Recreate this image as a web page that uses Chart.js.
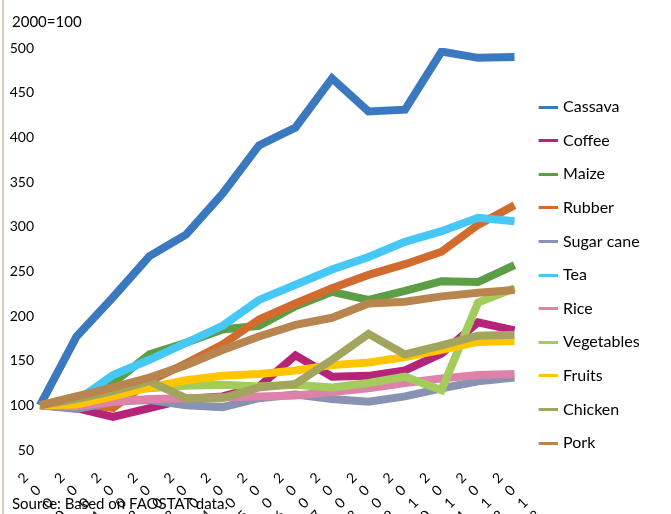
<!DOCTYPE html>
<html>
<head>
<meta charset="utf-8">
<script src="https://cdn.jsdelivr.net/npm/chart.js@4/dist/chart.umd.min.js"></script>
<style>
  html, body { margin: 0; padding: 0; background: #fff; }
  #wrap { position: relative; width: 671px; height: 514px; overflow: hidden; }
  #leftline { position: absolute; left: 2px; top: 0; width: 2px; height: 514px; background: #d5d2b2; }
  .note { position: absolute; left: 12px; font-family: Lato, sans-serif; font-size: 15px; line-height: 18px; color: #000; white-space: nowrap; }
  #unit { top: 11.5px; }
  #source { top: 493.5px; }
  canvas { position: absolute; left: 0; top: 0; }
</style>
</head>
<body>
<div id="wrap">
  <canvas id="c" width="671" height="514"></canvas>
  <div id="leftline"></div>
  <div class="note" id="unit">2000=100</div>
  <div class="note" id="source">Source: Based on FAOSTAT data.</div>
</div>
<script>
const years = ['2000','2001','2002','2003','2004','2005','2006','2007','2008','2009','2010','2011','2012','2013'];
const seriesNames = ['Cassava','Coffee','Maize','Rubber','Sugar cane','Tea','Rice','Vegetables','Fruits','Chicken','Pork'];
const cassava    = [100, 177, 221, 267, 291, 337, 391, 411, 466, 429, 431, 496, 489, 490];
const coffee     = [100,  97,  87,  97, 107, 110, 121, 156, 132, 133, 139, 158, 193, 184];
const maize      = [100, 106, 125, 157, 170, 185, 189, 211, 227, 218, 228, 239, 238, 257];
const rubber     = [100, 103,  97, 127, 147, 168, 196, 214, 231, 246, 258, 272, 302, 324];
const sugarCane  = [100,  96, 104, 106, 100,  98, 108, 112, 107, 104, 110, 119, 127, 131];
const tea        = [100, 105, 134, 151, 170, 189, 218, 235, 252, 266, 283, 295, 310, 306];
const rice       = [100,  99, 104, 107, 108, 109, 110, 111, 115, 119, 125, 130, 134, 135];
const vegetables = [100, 110, 116, 119, 122, 123, 121, 123, 120, 125, 132, 117, 215, 231];
const fruits     = [100, 101, 110, 120, 128, 133, 135, 139, 145, 148, 154, 162, 171, 172];
const chicken    = [100, 107, 116, 127, 108, 108, 120, 124, 151, 180, 157, 167, 178, 179];
const pork       = [100, 110, 120, 131, 145, 162, 177, 190, 198, 214, 216, 222, 226, 229];
const yTicks = [50, 100, 150, 200, 250, 300, 350, 400, 450, 500];

const seriesData = [cassava, coffee, maize, rubber, sugarCane, tea, rice, vegetables, fruits, chicken, pork];
const colors = ['#3a78bf','#b52479','#5c9e45','#d26c2e','#8a92b2','#45c8f5','#de82ac','#a3cc5c','#ffc600','#a3a55e','#b9854f'];

// legend line symbols: a 19px line with a transparent lead-in
function legendSymbol(color) {
  const c = document.createElement('canvas');
  c.width = 28; c.height = 3;
  const g = c.getContext('2d');
  g.fillStyle = color;
  g.fillRect(9, 0, 19, 3);
  return c;
}
const symbols = colors.map(legendSymbol);

const datasets = seriesNames.map((name, i) => ({
  label: name,
  data: seriesData[i],
  borderColor: colors[i],
  backgroundColor: colors[i],
  borderWidth: 8,
  borderJoinStyle: 'miter',
  borderCapStyle: 'butt',
  pointRadius: 0,
  pointHoverRadius: 0,
  tension: 0,
  fill: false,
  order: seriesNames.length - 1 - i
}));

Chart.defaults.font.family = 'Lato, sans-serif';
Chart.defaults.color = '#000';

const plotRightTarget = 514.5;

const chart = new Chart(document.getElementById('c'), {
  type: 'line',
  data: {
    labels: years.map(y => y.split('')),
    datasets: datasets
  },
  options: {
    responsive: false,
    animation: false,
    events: [],
    layout: { padding: { top: 48, right: 0, bottom: 0, left: 0 } },
    plugins: {
      tooltip: { enabled: false },
      legend: {
        position: 'right',
        align: 'start',
        title: { display: true, text: '', font: { size: 10, lineHeight: 1.2 }, padding: { top: 21.4, bottom: 0 } },
        labels: {
          font: { size: 16 },
          usePointStyle: true,
          pointStyleWidth: 23,
          boxHeight: 3,
          padding: 17.6,
          color: '#000',
          sort: (a, b) => a.datasetIndex - b.datasetIndex,
          generateLabels: (chart) => {
            const items = Chart.defaults.plugins.legend.labels.generateLabels(chart);
            items.forEach(it => {
              it.pointStyle = symbols[it.datasetIndex];
              it.lineWidth = 0;
              it.rotation = 0;
            });
            return items;
          }
        }
      }
    },
    scales: {
      x: {
        type: 'category',
        offset: false,
        grid: { display: false, drawTicks: false },
        border: { display: false },
        ticks: {
          autoSkip: false,
          minRotation: 45,
          maxRotation: 45,
          padding: 19,
          labelOffset: -14,
          font: { size: 14, lineHeight: '17.7px' },
          color: '#000'
        },
        afterFit: (s) => { s.height = 64; }
      },
      y: {
        type: 'linear',
        position: 'left',
        min: 50,
        max: 500,
        afterBuildTicks: (s) => { s.ticks = yTicks.map(v => ({ value: v })); },
        grid: { display: false, drawTicks: false },
        border: { display: false },
        ticks: { padding: 6, font: { size: 14 }, color: '#000' },
        afterFit: (s) => { s.width = 40; }
      }
    }
  }
});

// place the legend so that the plot ends at the target x
const legendW = chart.legend.width;
chart.options.layout.padding.right = Math.max(0, 671 - plotRightTarget - legendW);
chart.update('none');
</script>
</body>
</html>
